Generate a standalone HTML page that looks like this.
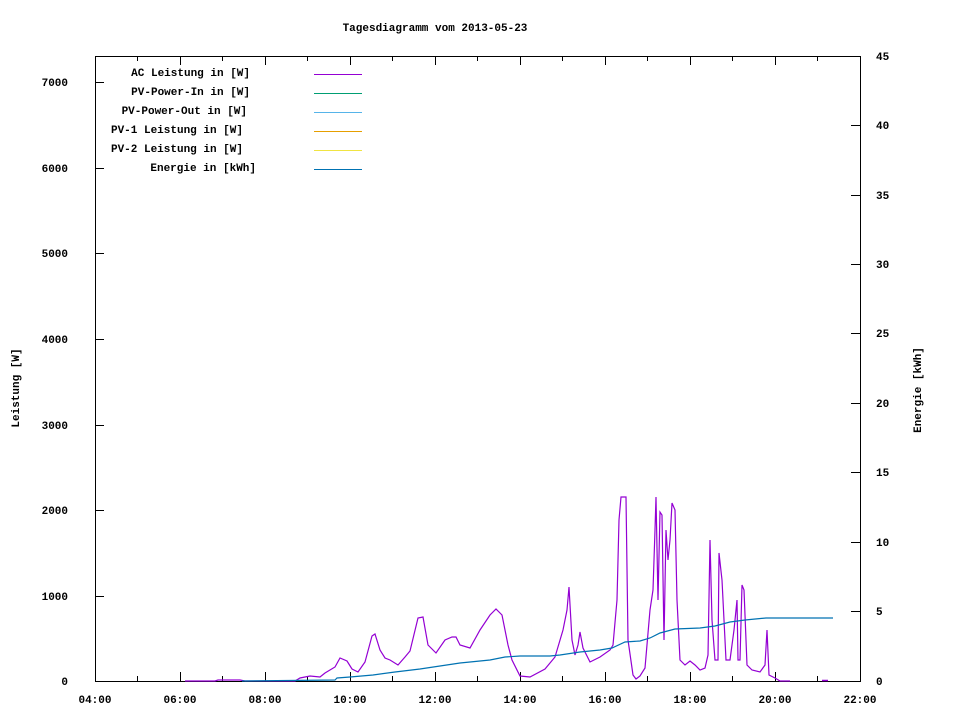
<!DOCTYPE html>
<html><head><meta charset="utf-8"><style>
body{margin:0;background:#fff}
svg text{font-family:"Liberation Mono","DejaVu Sans Mono",monospace;font-size:11px;font-weight:bold;fill:#000}
</style></head><body>
<svg width="960" height="720" viewBox="0 0 960 720" xmlns="http://www.w3.org/2000/svg">
<text x="435" y="31" text-anchor="middle">Tagesdiagramm vom 2013-05-23</text>
<rect x="95.5" y="56.5" width="765" height="625" fill="none" stroke="#000" stroke-width="1"/>
<g stroke="#000" stroke-width="1">
<!-- left ticks -->
<path d="M95 681.5h9M95 596.5h9M95 510.5h9M95 425.5h9M95 339.5h9M95 253.5h9M95 168.5h9M95 82.5h9"/>
<!-- right ticks -->
<path d="M860 681.5h-9M860 611.5h-9M860 542.5h-9M860 472.5h-9M860 403.5h-9M860 333.5h-9M860 264.5h-9M860 195.5h-9M860 125.5h-9M860 56.5h-9"/>
<!-- x major -->
<path d="M180.5 681v-9M265.5 681v-9M350.5 681v-9M435.5 681v-9M520.5 681v-9M605.5 681v-9M690.5 681v-9M775.5 681v-9
M180.5 56v9M265.5 56v9M350.5 56v9M435.5 56v9M520.5 56v9M605.5 56v9M690.5 56v9M775.5 56v9"/>
<path d="M137.5 681v-5M222.5 681v-5M307.5 681v-5M392.5 681v-5M477.5 681v-5M562.5 681v-5M647.5 681v-5M732.5 681v-5M817.5 681v-5
M137.5 56v5M222.5 56v5M307.5 56v5M392.5 56v5M477.5 56v5M562.5 56v5M647.5 56v5M732.5 56v5M817.5 56v5"/>
</g>
<g text-anchor="end">
<text x="68" y="685">0</text><text x="68" y="600">1000</text><text x="68" y="514">2000</text><text x="68" y="429">3000</text><text x="68" y="343">4000</text><text x="68" y="257">5000</text><text x="68" y="172">6000</text><text x="68" y="86">7000</text>
</g>
<g text-anchor="start">
<text x="876" y="685">0</text><text x="876" y="615">5</text><text x="876" y="546">10</text><text x="876" y="476">15</text><text x="876" y="407">20</text><text x="876" y="337">25</text><text x="876" y="268">30</text><text x="876" y="199">35</text><text x="876" y="129">40</text><text x="876" y="60">45</text>
</g>
<g text-anchor="middle">
<text x="95" y="703">04:00</text><text x="180" y="703">06:00</text><text x="265" y="703">08:00</text><text x="350" y="703">10:00</text><text x="435" y="703">12:00</text><text x="520" y="703">14:00</text><text x="605" y="703">16:00</text><text x="690" y="703">18:00</text><text x="775" y="703">20:00</text><text x="860" y="703">22:00</text>
</g>
<text transform="translate(19,388) rotate(-90)" text-anchor="middle">Leistung [W]</text>
<text transform="translate(921,390) rotate(-90)" text-anchor="middle">Energie [kWh]</text>
<g text-anchor="end">
<text x="250" y="76">AC Leistung in [W]</text>
<text x="250" y="95">PV-Power-In in [W]</text>
<text x="247" y="114">PV-Power-Out in [W]</text>
<text x="243" y="133">PV-1 Leistung in [W]</text>
<text x="243" y="152">PV-2 Leistung in [W]</text>
<text x="256" y="171">Energie in [kWh]</text>
</g>
<g stroke-width="1">
<path d="M314 74.5h48" stroke="#9400d3"/>
<path d="M314 93.5h48" stroke="#009e73"/>
<path d="M314 112.5h48" stroke="#56b4e9"/>
<path d="M314 131.5h48" stroke="#e69f00"/>
<path d="M314 150.5h48" stroke="#f0e442"/>
<path d="M314 169.5h48" stroke="#0072b2"/>
</g>
<polyline fill="none" stroke="#9400d3" stroke-width="1.2" points="185,681 215,681 218,680 240,680 245,681 295,681 300,678 310,676 320,677 325,673 335,667 340,658 347,661 352,669 358,672 365,662 372,636 375,634 380,650 385,658 390,660 398,665 405,657 410,651 418,618 423,617 428,645 436,653 445,640 452,637 456,637 460,645 470,648 480,630 490,615 496,609 502,615 508,645 512,660 520,676 530,677 545,669 555,657 563,630 567,610 569,587 572,640 575,655 578,645 580,632 583,648 590,662 600,657 610,650 613,645 617,600 619,520 621,497 626,497 628,640 633,675 636,679 640,676 645,668 650,610 653,590 655,530 656,497 658,600 660,512 662,515 664,640 666,530 668,560 670,540 672,503 675,510 677,600 680,660 685,665 690,661 695,665 700,670 705,668 708,655 710,540 712,620 715,660 718,660 719,553 722,580 726,660 730,660 734,630 737,600 738,660 740,660 742,585 744,590 747,665 752,670 760,672 765,665 767,630 769,675 775,678 780,681 790,681"/>
<path d="M822 680.5h6" stroke="#9400d3" stroke-width="1.5"/>
<polyline fill="none" stroke="#0072b2" stroke-width="1.2" points="242,681 335,680 337,678 350,677 373,675 395,672 420,669 440,666 460,663 490,660 505,657 520,656 550,656 560,655 580,652 600,650 612,648 625,642 640,641 650,638 660,633 675,629 700,628 715,626 730,622 745,620 766,618 833,618"/>
</svg>
</body></html>
